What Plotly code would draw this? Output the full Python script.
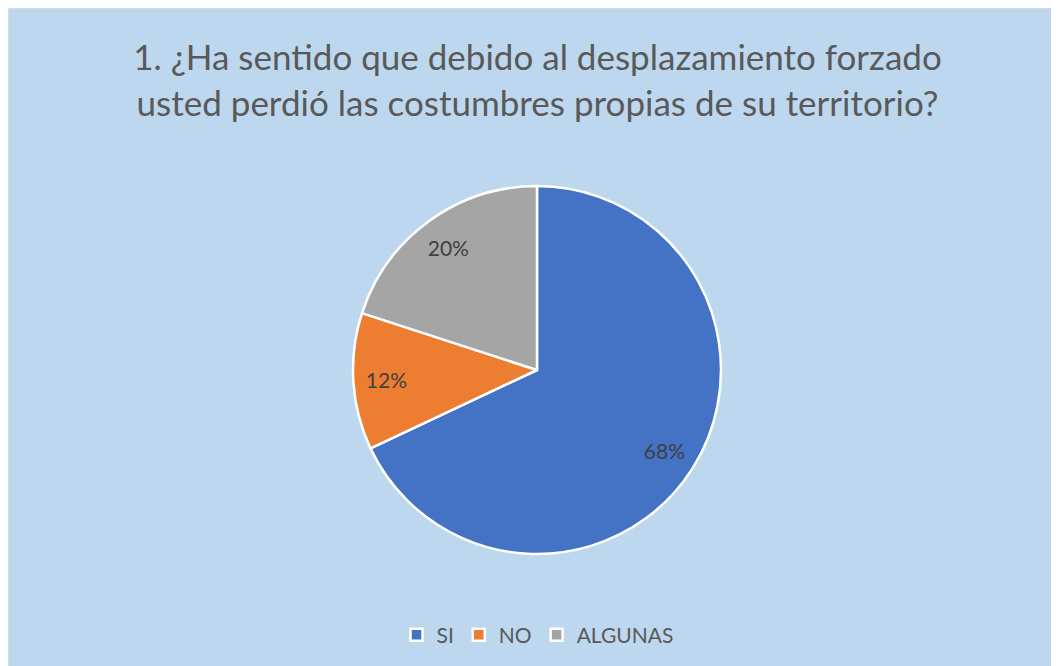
import plotly.graph_objects as go

# respuestas de la pregunta 1
labels = ["SI", "NO", "ALGUNAS"]
values = [68, 12, 20]
colors = ["#4472C4", "#ED7D31", "#A5A5A5"]

W, H = 1059, 666
# la página añade 8px de margen arriba y a la izquierda
cx, cy, r = 529, 362, 184
dom = dict(x=[(cx - r) / W, (cx + r) / W], y=[1 - (cy + r) / H, 1 - (cy - r) / H])

fig = go.Figure()

# sectores
fig.add_trace(go.Pie(
    labels=labels,
    values=values,
    sort=False,
    direction="clockwise",
    rotation=0,
    marker=dict(colors=colors, line=dict(color="white", width=2.5)),
    textinfo="none",
    domain=dom,
    hoverinfo="label+percent",
))

# etiquetas de porcentaje (anillo transparente para llevarlas hacia el borde)
fig.add_trace(go.Pie(
    labels=labels,
    values=values,
    sort=False,
    direction="clockwise",
    rotation=0,
    hole=0.64,
    marker=dict(colors=["rgba(0,0,0,0)"] * 3, line=dict(width=0)),
    textinfo="percent",
    texttemplate="%{percent:.0%}",
    textposition="inside",
    insidetextorientation="horizontal",
    textfont=dict(family="Lato", size=21, color="#404040"),
    domain=dom,
    showlegend=False,
    hoverinfo="skip",
))

fig.update_layout(
    width=W, height=H,
    margin=dict(l=0, r=0, t=0, b=0),
    paper_bgcolor="white",
    title=dict(
        text="1. ¿Ha sentido que debido al desplazamiento forzado<br>usted perdió las costumbres propias de su territorio?",
        x=0.5, xanchor="center", y=1 - 62 / H, yanchor="middle",
        font=dict(family="Lato", size=35, color="#595959"),
    ),
    legend=dict(
        orientation="h", x=0.5, xanchor="center", y=1 - 627 / H, yanchor="middle",
        font=dict(family="Lato", size=21, color="#595959"),
        bgcolor="rgba(0,0,0,0)",
        itemwidth=30,
    ),
    shapes=[dict(
        type="rect", xref="paper", yref="paper", layer="below",
        x0=0, x1=1.01, y0=-0.01, y1=1,
        fillcolor="#BDD7EE", line=dict(color="#D9D9D9", width=2),
    )],
)

fig.write_html("out.html")
